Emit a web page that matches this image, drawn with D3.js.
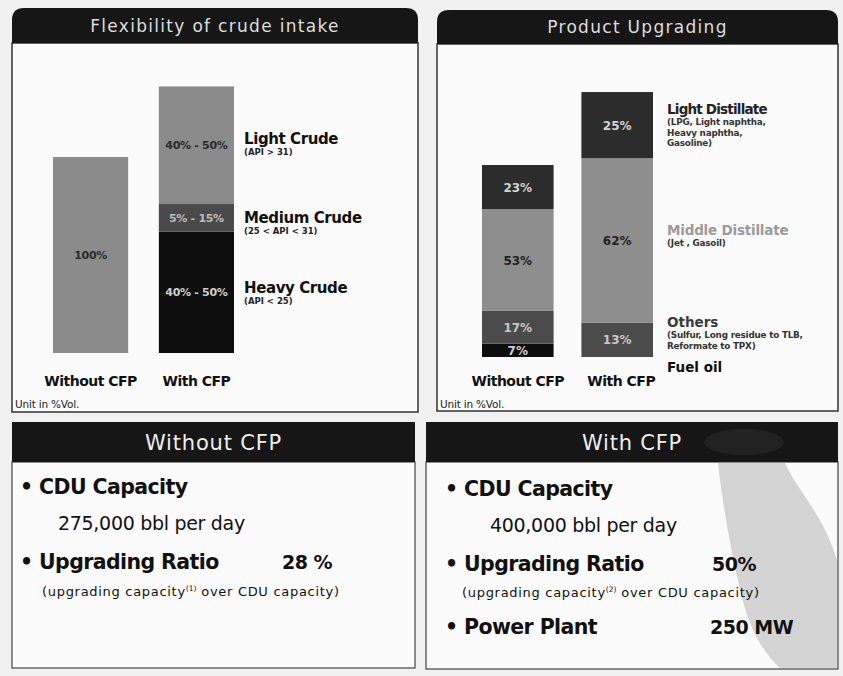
<!DOCTYPE html>
<html><head><meta charset="utf-8">
<script src="https://cdn.jsdelivr.net/npm/d3@7/dist/d3.min.js"></script>
<style>
body{margin:0;background:#f1f1f1;}
svg{display:block;font-family:"DejaVu Sans",sans-serif;}
</style></head>
<body><svg id="c" width="843" height="676"></svg>
<script>
// ---------- data ----------
const chartTitles = ["Flexibility of crude intake", "Product Upgrading"];
const categories = ["Without CFP", "With CFP"];
// crude intake, relative volume (Without CFP = 100)
const crudeLight  = [100, 60];
const crudeMedium = [0, 14];
const crudeHeavy  = [0, 62];
const crudeLabels = [["100%"], ["40% - 50%", "5% - 15%", "40% - 50%"]]; // light, medium, heavy
// product slate, % of each bar
const prodFuelOil = [7, 0];
const prodOthers  = [17, 13];
const prodMiddle  = [53, 62];
const prodLight   = [23, 25];
const prodTotals  = [100, 138]; // relative bar height
const bottomTitles = ["Without CFP", "With CFP"];
const cduCapacity = ["275,000 bbl per day", "400,000 bbl per day"];
const upgradingRatio = ["28 %", "50%"];
const powerPlant = "250 MW";

const svg = d3.select("#c");
const dark = "#161616";

// ---------- panel frames ----------
function header(x, y, w, h, r, text, fs) {
  const p = `M${x},${y+h} L${x},${y+r} Q${x},${y} ${x+r},${y} L${x+w-r},${y} Q${x+w},${y} ${x+w},${y+r} L${x+w},${y+h} Z`;
  svg.append("path").attr("d", p).attr("fill", dark);
  svg.append("text").attr("x", x + w/2).attr("y", y + h/2 + fs*0.36)
    .attr("text-anchor", "middle").attr("fill", "#dedede")
    .attr("font-size", fs).attr("letter-spacing", 1.3).text(text);
}
svg.append("rect").attr("x",12).attr("y",43).attr("width",406).attr("height",369)
  .attr("fill","#fbfbfb").attr("stroke","#333").attr("stroke-width",1.5);
svg.append("rect").attr("x",437).attr("y",44).attr("width",401).attr("height",367)
  .attr("fill","#fbfbfb").attr("stroke","#333").attr("stroke-width",1.5);
header(12, 8, 406, 35, 12, chartTitles[0], 17);
header(437, 10, 401, 34, 12, chartTitles[1], 17);

// ---------- left chart ----------
const xL = d3.scaleBand().domain(categories).range([53, 234]).paddingInner(0.29).paddingOuter(0);
const yL = d3.scaleLinear().domain([0, 100]).range([353, 157]);
const crudeKeys = ["heavy", "medium", "light"];
const crudeRows = categories.map((c, i) => ({cat: c, heavy: crudeHeavy[i], medium: crudeMedium[i], light: crudeLight[i]}));
const crudeStack = d3.stack().keys(crudeKeys)(crudeRows);
const crudeColor = {heavy: "#0e0e0e", medium: "#4a4a4a", light: "#8b8b8b"};
const crudeLabelColor = {heavy: "#cfcfcf", medium: "#bdbdbd", light: "#2a2a2a"};
const crudeLabelIdx = {light: 0, medium: 1, heavy: 2};
crudeStack.forEach(layer => {
  const ds = layer.filter(d => d[1] > d[0]);
  const g = svg.append("g");
  g.selectAll("rect").data(ds).join("rect")
    .attr("x", d => xL(d.data.cat)).attr("width", xL.bandwidth())
    .attr("y", d => yL(d[1])).attr("height", d => yL(d[0]) - yL(d[1]))
    .attr("fill", crudeColor[layer.key]);
  g.selectAll("text").data(ds).join("text")
    .attr("x", d => xL(d.data.cat) + xL.bandwidth()/2)
    .attr("y", d => (yL(d[0]) + yL(d[1]))/2 + 4)
    .attr("text-anchor", "middle").attr("font-size", 11).attr("font-weight", "bold").attr("letter-spacing", -0.3)
    .attr("fill", crudeLabelColor[layer.key])
    .text(d => d.data.cat === categories[0] ? crudeLabels[0][0] : crudeLabels[1][crudeLabelIdx[layer.key]]);
});
// legend labels
const lgX = 244;
[["light", "Light Crude", "(API > 31)", -1], ["medium", "Medium Crude", "(25 < API < 31)", 5], ["heavy", "Heavy Crude", "(API < 25)", 1]]
  .forEach(([k, t, s, off]) => {
    const d = crudeStack.find(l => l.key === k)[1];
    const m = (yL(d[0]) + yL(d[1]))/2 + off;
    svg.append("text").attr("x", lgX).attr("y", m).attr("font-size", 15).attr("font-weight", "bold")
      .attr("letter-spacing", -0.4).attr("fill", "#111").text(t);
    svg.append("text").attr("x", lgX).attr("y", m + 11).attr("font-size", 8.5).attr("font-weight", "bold")
      .attr("fill", "#222").text(s);
  });
categories.forEach(c => {
  svg.append("text").attr("x", xL(c) + xL.bandwidth()/2).attr("y", 386).attr("text-anchor", "middle")
    .attr("font-size", 14).attr("font-weight", "bold").attr("letter-spacing", -0.5).attr("fill", "#111").text(c);
});
svg.append("text").attr("x", 15).attr("y", 408).attr("font-size", 10.5).attr("fill", "#222").attr("letter-spacing", -0.2).text("Unit in %Vol.");

// ---------- right chart ----------
const xR = d3.scaleBand().domain(categories).range([482, 653]).paddingInner(0.28).paddingOuter(0);
const yR = d3.scaleLinear().domain([0, 100]).range([357, 165]);
const prodKeys = ["fuel", "others", "middle", "light"];
const prodRows = categories.map((c, i) => ({cat: c,
  fuel: prodFuelOil[i] * prodTotals[i] / 100, others: prodOthers[i] * prodTotals[i] / 100,
  middle: prodMiddle[i] * prodTotals[i] / 100, light: prodLight[i] * prodTotals[i] / 100,
  pct: {fuel: prodFuelOil[i], others: prodOthers[i], middle: prodMiddle[i], light: prodLight[i]}}));
const prodStack = d3.stack().keys(prodKeys)(prodRows);
const prodColor = {fuel: "#0d0d0d", others: "#4b4b4b", middle: "#8e8e8e", light: "#2c2c2c"};
const prodLabelColor = {fuel: "#d0d0d0", others: "#c8c8c8", middle: "#222", light: "#d4d4d4"};
prodStack.forEach(layer => {
  const g = svg.append("g");
  const ds = layer.filter(d => d[1] > d[0]);
  g.selectAll("rect").data(ds).join("rect")
    .attr("x", d => xR(d.data.cat)).attr("width", xR.bandwidth())
    .attr("y", d => yR(d[1])).attr("height", d => yR(d[0]) - yR(d[1]))
    .attr("fill", prodColor[layer.key]);
  g.selectAll("text").data(ds).join("text")
    .attr("x", d => xR(d.data.cat) + xR.bandwidth()/2)
    .attr("y", d => (yR(d[0]) + yR(d[1]))/2 + 4.5)
    .attr("text-anchor", "middle").attr("font-size", 12).attr("font-weight", "bold")
    .attr("fill", prodLabelColor[layer.key]).text(d => d.data.pct[layer.key] + "%");
});
const rgX = 667;
const prodLegend = [
  {y: 114, t: "Light Distillate", c: "#222", ls: -0.8, sub: ["(LPG, Light naphtha,", "Heavy naphtha,", "Gasoline)"]},
  {y: 235, t: "Middle Distillate", c: "#9a9a9a", ls: -0.2, sub: ["(Jet , Gasoil)"]},
  {y: 327, t: "Others", c: "#3a3a3a", ls: 0, sub: ["(Sulfur, Long residue to TLB,", "Reformate to TPX)"]},
  {y: 372, t: "Fuel oil", c: "#0d0d0d", ls: 0, sub: []}
];
prodLegend.forEach(L => {
  svg.append("text").attr("x", rgX).attr("y", L.y).attr("font-size", 13.5).attr("font-weight", "bold")
    .attr("letter-spacing", L.ls).attr("fill", L.c).text(L.t);
  L.sub.forEach((s, k) => svg.append("text").attr("x", rgX).attr("y", L.y + 11 + k * 10.5)
    .attr("font-size", 8.8).attr("font-weight", "bold").attr("letter-spacing", -0.2).attr("fill", "#333").text(s));
});
categories.forEach(c => {
  svg.append("text").attr("x", xR(c) + xR.bandwidth()/2 + (c === "With CFP" ? 4 : 0)).attr("y", 386).attr("text-anchor", "middle")
    .attr("font-size", 14).attr("font-weight", "bold").attr("letter-spacing", -0.5).attr("fill", "#111").text(c);
});
svg.append("text").attr("x", 440).attr("y", 408).attr("font-size", 10.5).attr("fill", "#222").attr("letter-spacing", -0.2).text("Unit in %Vol.");

// ---------- bottom panels ----------
function bottomPanel(x, w, bodyBottom) {
  svg.append("rect").attr("x", x).attr("y", 462).attr("width", w).attr("height", bodyBottom - 462)
    .attr("fill", "#fbfbfb").attr("stroke", "#444").attr("stroke-width", 1.2);
  svg.append("rect").attr("x", x).attr("y", 422).attr("width", w).attr("height", 40).attr("fill", dark);
}
function bottomTitle(x, w, title) {
  svg.append("text").attr("x", x + w/2).attr("y", 450).attr("text-anchor", "middle")
    .attr("font-size", 21).attr("letter-spacing", 0.8).attr("fill", "#eeeeee").text(title);
}
bottomPanel(12, 403, 668);
bottomPanel(426, 412, 669);
// decorative swoosh and header smudge
svg.append("path")
  .attr("d", "M718,463 C722,500 732,560 744,605 C752,635 766,655 780,668 L837,668 L837,560 C828,530 814,510 802,492 C794,480 788,470 785,463 Z")
  .attr("fill", "#d4d4d4");
svg.append("ellipse").attr("cx", 744).attr("cy", 442).attr("rx", 40).attr("ry", 13).attr("fill", "#222");
bottomTitle(12, 403, bottomTitles[0]);
bottomTitle(426, 412, bottomTitles[1]);

function bullet(x, y, t) {
  svg.append("text").attr("x", x).attr("y", y).attr("font-size", 20.5).attr("font-weight", "bold")
    .attr("fill", "#111").attr("letter-spacing", -0.6).text("\u2022 " + t);
}
function plain(x, y, t, fs, bold) {
  svg.append("text").attr("x", x).attr("y", y).attr("font-size", fs)
    .attr("font-weight", bold ? "bold" : "normal").attr("letter-spacing", bold ? -0.5 : -0.3)
    .attr("fill", "#111").text(t);
}
function footnote(x, y, n, gap) {
  const t = svg.append("text").attr("x", x).attr("y", y).attr("font-size", 13).attr("fill", "#111").attr("letter-spacing", 0.7);
  t.append("tspan").text("(upgrading capacity");
  t.append("tspan").attr("dy", -5).attr("font-size", 7.5).attr("letter-spacing", 0).text("(" + n + ")");
  t.append("tspan").attr("dy", 5).text(gap + "over CDU capacity)");
}
// left
bullet(20, 494, "CDU Capacity");
plain(58, 530, cduCapacity[0], 19, false);
bullet(20, 569, "Upgrading Ratio");
plain(282, 569, upgradingRatio[0], 19, true);
footnote(42, 596, 1, " ");
// right
bullet(445, 496, "CDU Capacity");
plain(490, 532, cduCapacity[1], 19, false);
bullet(445, 571, "Upgrading Ratio");
plain(712, 571, upgradingRatio[1], 19, true);
footnote(462, 597, 2, "  ");
bullet(445, 634, "Power Plant");
plain(710, 634, powerPlant, 19, true);
</script></body></html>
